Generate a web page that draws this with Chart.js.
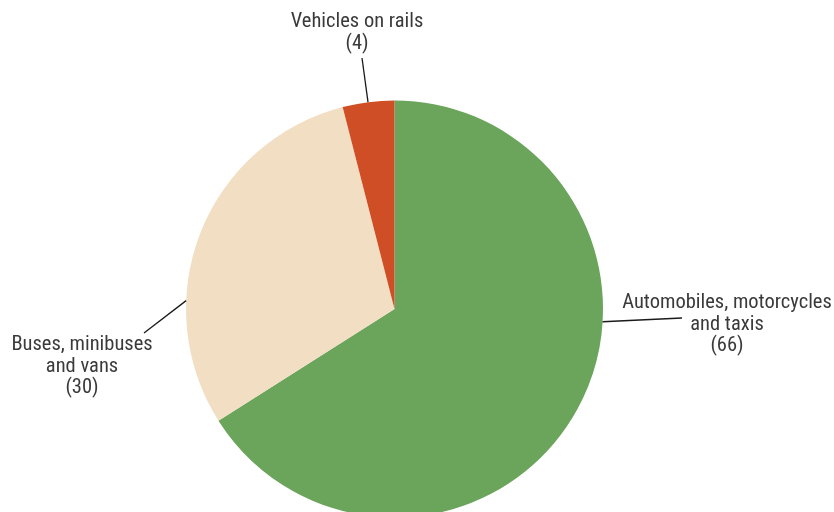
<!DOCTYPE html>
<html>
<head>
<meta charset="utf-8">
<script src="https://cdn.jsdelivr.net/npm/chart.js@4/dist/chart.umd.min.js"></script>
<style>
  html, body { margin: 0; padding: 0; background: #fff; overflow: hidden; }
  #wrap { position: relative; width: 834px; height: 530px; }
</style>
</head>
<body>
<div id="wrap"><canvas id="chart"></canvas></div>
<script>
const categories = ["Automobiles, motorcycles and taxis", "Buses, minibuses and vans", "Vehicles on rails"]
const labelLines = [["Automobiles, motorcycles", "and taxis"], ["Buses, minibuses", "and vans"], ["Vehicles on rails"]]
const shares = [66, 30, 4]
const colors = ["#6ba45b", "#f2dfc3", "#cf4e25"]

// where each callout sits: text centre, first line y, leader start and angle where it meets the pie (deg clockwise from top)
const callouts = [
  { x: 727, y: 303, from: [682, 318], angle: 93.5 },
  { x: 82, y: 345, from: [144, 333], angle: 272.3 },
  { x: 357, y: 22, from: [362, 58], angle: 352.7 }
]

const FONT = "20.5px 'Liberation Sans Narrow', 'Roboto Condensed', 'DejaVu Sans Condensed', sans-serif"

const calloutPlugin = {
  id: "callouts",
  afterDraw(chart) {
    const ctx = chart.ctx
    const arc = chart.getDatasetMeta(0).data[0]
    if (!arc) return
    const cx = arc.x, cy = arc.y, r = arc.outerRadius
    ctx.save()
    ctx.font = FONT
    ctx.fillStyle = "#3a3a3a"
    ctx.textAlign = "center"
    ctx.textBaseline = "middle"
    ctx.strokeStyle = "#1a1a1a"
    ctx.lineWidth = 1.3
    callouts.forEach((c, i) => {
      const lines = labelLines[i].concat(["(" + shares[i] + ")"])
      lines.forEach((t, j) => ctx.fillText(t, c.x, c.y + j * 21.5))
      const a = c.angle * Math.PI / 180
      ctx.beginPath()
      ctx.moveTo(c.from[0], c.from[1])
      ctx.lineTo(cx + Math.sin(a) * r, cy - Math.cos(a) * r)
      ctx.stroke()
    })
    ctx.restore()
  }
}

new Chart(document.getElementById("chart"), {
  type: "pie",
  data: {
    labels: categories,
    datasets: [{ data: shares, backgroundColor: colors, borderWidth: 0 }]
  },
  options: {
    responsive: true,
    maintainAspectRatio: false,
    animation: false,
    layout: { padding: { left: 186, right: 231, top: 100.5, bottom: 12.5 } },
    plugins: {
      legend: { display: false },
      tooltip: { enabled: false }
    }
  },
  plugins: [calloutPlugin]
})
</script>
</body>
</html>
